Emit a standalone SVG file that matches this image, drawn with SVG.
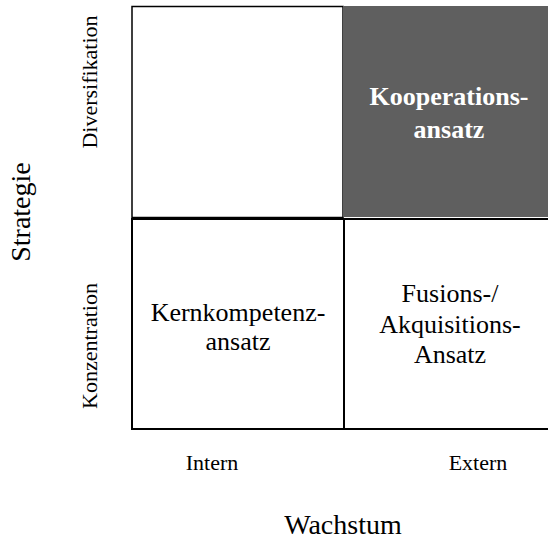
<svg xmlns="http://www.w3.org/2000/svg" width="548" height="539" viewBox="0 0 548 539" font-family="'Liberation Serif', 'Times New Roman', serif">
<style>
.cell{fill:#fff;stroke:#000;stroke-width:2}
text{font-family:"Liberation Serif","Times New Roman",serif;fill:#000;text-anchor:middle}
.c{font-size:26px}
.b{font-weight:bold;fill:#fff}
.s{font-size:22px}
.l{font-size:28px}
</style>
<rect width="548" height="539" fill="#fff"/>
<g id="cell-tl"><rect class="cell" x="132" y="6.5" width="211" height="211" style="stroke-width:1.5"/></g>
<g id="cell-tr"><rect x="343" y="6" width="212" height="211" fill="#5f5f5f"/>
<text class="c b" x="449" y="105" font-family="'Liberation Serif', serif">Kooperations-</text>
<text class="c b" x="449" y="138" font-family="'Liberation Serif', serif">ansatz</text></g>
<g id="cell-bl"><rect class="cell" x="132" y="219" width="212" height="210"/>
<text class="c" x="238" y="321" font-family="'Liberation Serif', serif">Kernkompetenz-</text>
<text class="c" x="238" y="350" font-family="'Liberation Serif', serif">ansatz</text></g>
<g id="cell-br"><rect class="cell" x="344" y="219" width="212" height="210"/>
<text class="c" x="450" y="302" font-family="'Liberation Serif', serif">Fusions-/</text>
<text class="c" x="450" y="333" font-family="'Liberation Serif', serif">Akquisitions-</text>
<text class="c" x="450" y="363" font-family="'Liberation Serif', serif">Ansatz</text></g>
<g id="axis-y">
<text class="s" transform="translate(97,82) rotate(-90)">Diversifikation</text>
<text class="s" transform="translate(97,346) rotate(-90)">Konzentration</text>
<text class="l" transform="translate(30,212) rotate(-90)">Strategie</text>
</g>
<g id="axis-x">
<text class="s" x="212" y="470">Intern</text>
<text class="s" x="478" y="470">Extern</text>
<text class="l" x="343" y="534">Wachstum</text>
</g>
<g id="connectors"></g>
</svg>
